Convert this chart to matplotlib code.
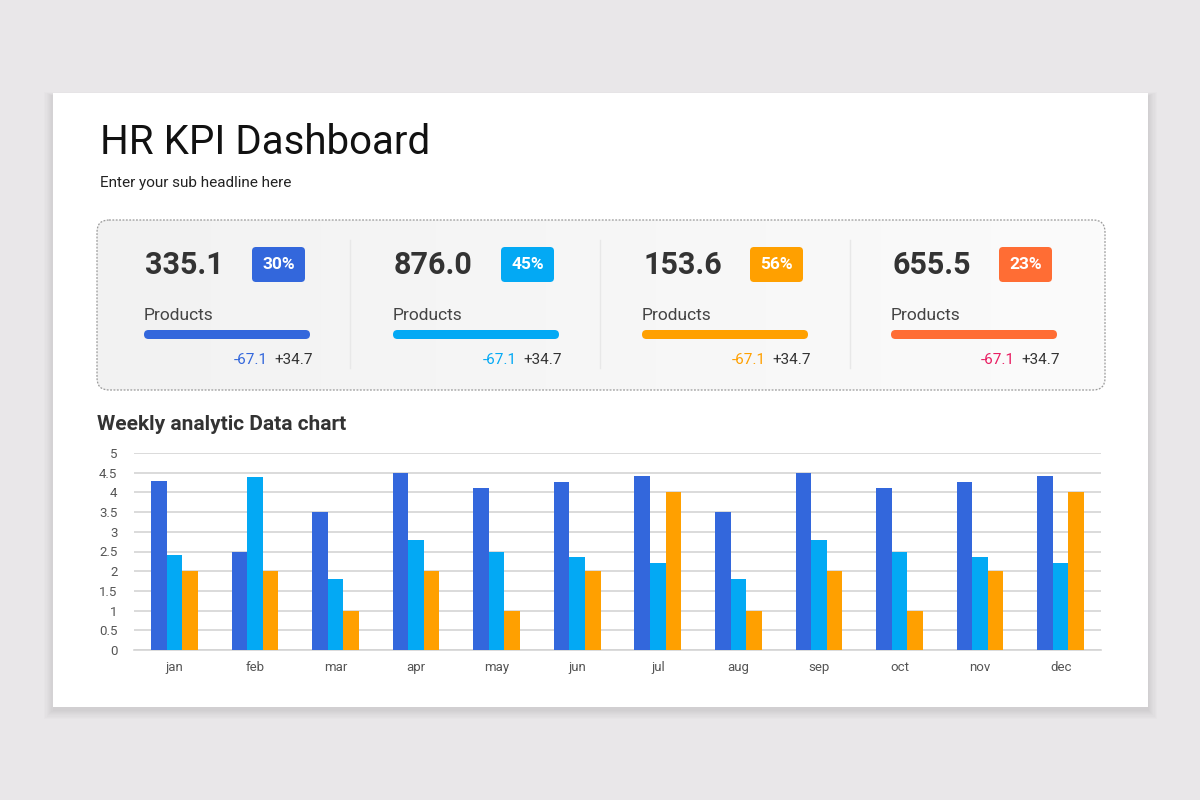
import matplotlib.pyplot as plt
from matplotlib.patches import FancyBboxPatch, Rectangle
import numpy as np

plt.rcParams['font.family'] = ['Roboto', 'DejaVu Sans']

# chart data
months = ["jan", "feb", "mar", "apr", "may", "jun", "jul", "aug", "sep", "oct", "nov", "dec"]
series_a = [4.3, 2.5, 3.5, 4.5, 4.1, 4.27, 4.42, 3.5, 4.5, 4.1, 4.27, 4.42]
series_b = [2.4, 4.4, 1.8, 2.8, 2.5, 2.37, 2.2, 1.8, 2.8, 2.5, 2.37, 2.2]
series_c = [2.0, 2.0, 1.0, 2.0, 1.0, 2.0, 4.0, 1.0, 2.0, 1.0, 2.0, 4.0]
yticks = [0, 0.5, 1, 1.5, 2, 2.5, 3, 3.5, 4, 4.5, 5]

# kpi data
kpi_values = [335.1, 876.0, 153.6, 655.5]
kpi_pcts = [30, 45, 56, 23]
kpi_labels = ["Products", "Products", "Products", "Products"]
kpi_neg = [-67.1, -67.1, -67.1, -67.1]
kpi_pos = [34.7, 34.7, 34.7, 34.7]
kpi_colors = ["#3367dc", "#03a9f4", "#ffa000", "#ff6d34"]
neg_colors = ["#3367dc", "#03a9f4", "#ffa000", "#e91e63"]

series_colors = ["#3367dc", "#03a9f4", "#ffa000"]

fig = plt.figure(figsize=(12, 8), dpi=100)
fig.patch.set_facecolor("#e9e7e9")

bg = fig.add_axes([0, 0, 1, 1])
bg.set_xlim(0, 1200)
bg.set_ylim(800, 0)
bg.axis("off")

# soft card shadow, mostly below the card
for i in range(8):
    s = 0.5 + i * 1.2
    bg.add_patch(Rectangle((53 - s, 93 - s * 0.4 + 3), 1095 + 2 * s, 614 + s * 1.4,
                           facecolor="#000000", alpha=0.011, edgecolor="none", zorder=1))
bg.add_patch(Rectangle((53, 93), 1095, 614, facecolor="white", edgecolor="none", zorder=2))

bg.text(100, 142, "HR KPI Dashboard", fontsize=29, color="#111111", va="center", zorder=3)
bg.text(100, 183, "Enter your sub headline here", fontsize=11, color="#222222", va="center", zorder=3)

# kpi box with light gradient
box = FancyBboxPatch((97, 220), 1008, 170, boxstyle="round,pad=0,rounding_size=12",
                     facecolor="none", edgecolor="#9a9a9a", lw=0.9, linestyle=(0, (1.5, 1.2)), zorder=5)
bg.add_patch(box)
grad = np.linspace(0, 1, 256).reshape(1, -1)
im = bg.imshow(grad, extent=(97, 1105, 390, 220), cmap=plt.matplotlib.colors.LinearSegmentedColormap.from_list(
    "g", ["#f2f2f2", "#fbfbfb"]), aspect="auto", zorder=3)
im.set_clip_path(box)
bg.set_xlim(0, 1200)
bg.set_ylim(800, 0)

for x in [350, 600, 850]:
    bg.plot([x, x], [240, 368], color="#e8e8e8", lw=1, zorder=4)

for i in range(4):
    x0 = 145 + i * 249
    bg.text(x0, 265, f"{kpi_values[i]:.1f}", fontsize=22, fontweight="bold", color="#333333",
            va="center", zorder=6)
    bg.add_patch(FancyBboxPatch((x0 + 107, 247), 53, 35, boxstyle="round,pad=0,rounding_size=4",
                                facecolor=kpi_colors[i], edgecolor="none", zorder=6))
    bg.text(x0 + 133.5, 264.5, f"{kpi_pcts[i]}%", fontsize=12.5, fontweight="bold", color="white",
            ha="center", va="center", zorder=7)
    bg.text(x0 - 1, 315, kpi_labels[i], fontsize=12.5, color="#444444", va="center", zorder=6)
    bg.add_patch(FancyBboxPatch((x0 - 1, 330), 166, 9, boxstyle="round,pad=0,rounding_size=4.5",
                                facecolor=kpi_colors[i], edgecolor="none", zorder=6))
    bg.text(x0 + 123, 360, f"{kpi_neg[i]:.1f}", fontsize=11, color=neg_colors[i],
            ha="right", va="center", zorder=6)
    bg.text(x0 + 168, 360, f"+{kpi_pos[i]:.1f}", fontsize=11, color="#333333",
            ha="right", va="center", zorder=6)

bg.text(97, 424, "Weekly analytic Data chart", fontsize=15, fontweight="bold", color="#333333",
        va="center", zorder=3)

# bar chart
ax = fig.add_axes([134 / 1200, 150 / 800, 967 / 1200, 197 / 800])
ax.set_zorder(10)
ax.patch.set_alpha(0)
x = np.arange(len(months))
w = 0.193
ax.bar(x - w, series_a, w, color=series_colors[0], zorder=3)
ax.bar(x, series_b, w, color=series_colors[1], zorder=3)
ax.bar(x + w, series_c, w, color=series_colors[2], zorder=3)
ax.set_xlim(-0.5, 11.5)
ax.set_ylim(0, 5)
ax.set_yticks(yticks)
ax.set_yticklabels([f"{t:g}" for t in yticks])
ax.set_xticks(x)
ax.set_xticklabels(months)
ax.grid(axis="y", color="#d4d4d4", lw=1.2, zorder=0)
for sp in ["top", "right", "left"]:
    ax.spines[sp].set_visible(False)
ax.spines["bottom"].set_color("#d4d4d4")
ax.spines["bottom"].set_linewidth(1.2)
ax.tick_params(axis="both", length=0, labelsize=9.5, colors="#555555")
ax.tick_params(axis="y", pad=12)
ax.tick_params(axis="x", pad=8)

fig.savefig("out.png", dpi=100)
